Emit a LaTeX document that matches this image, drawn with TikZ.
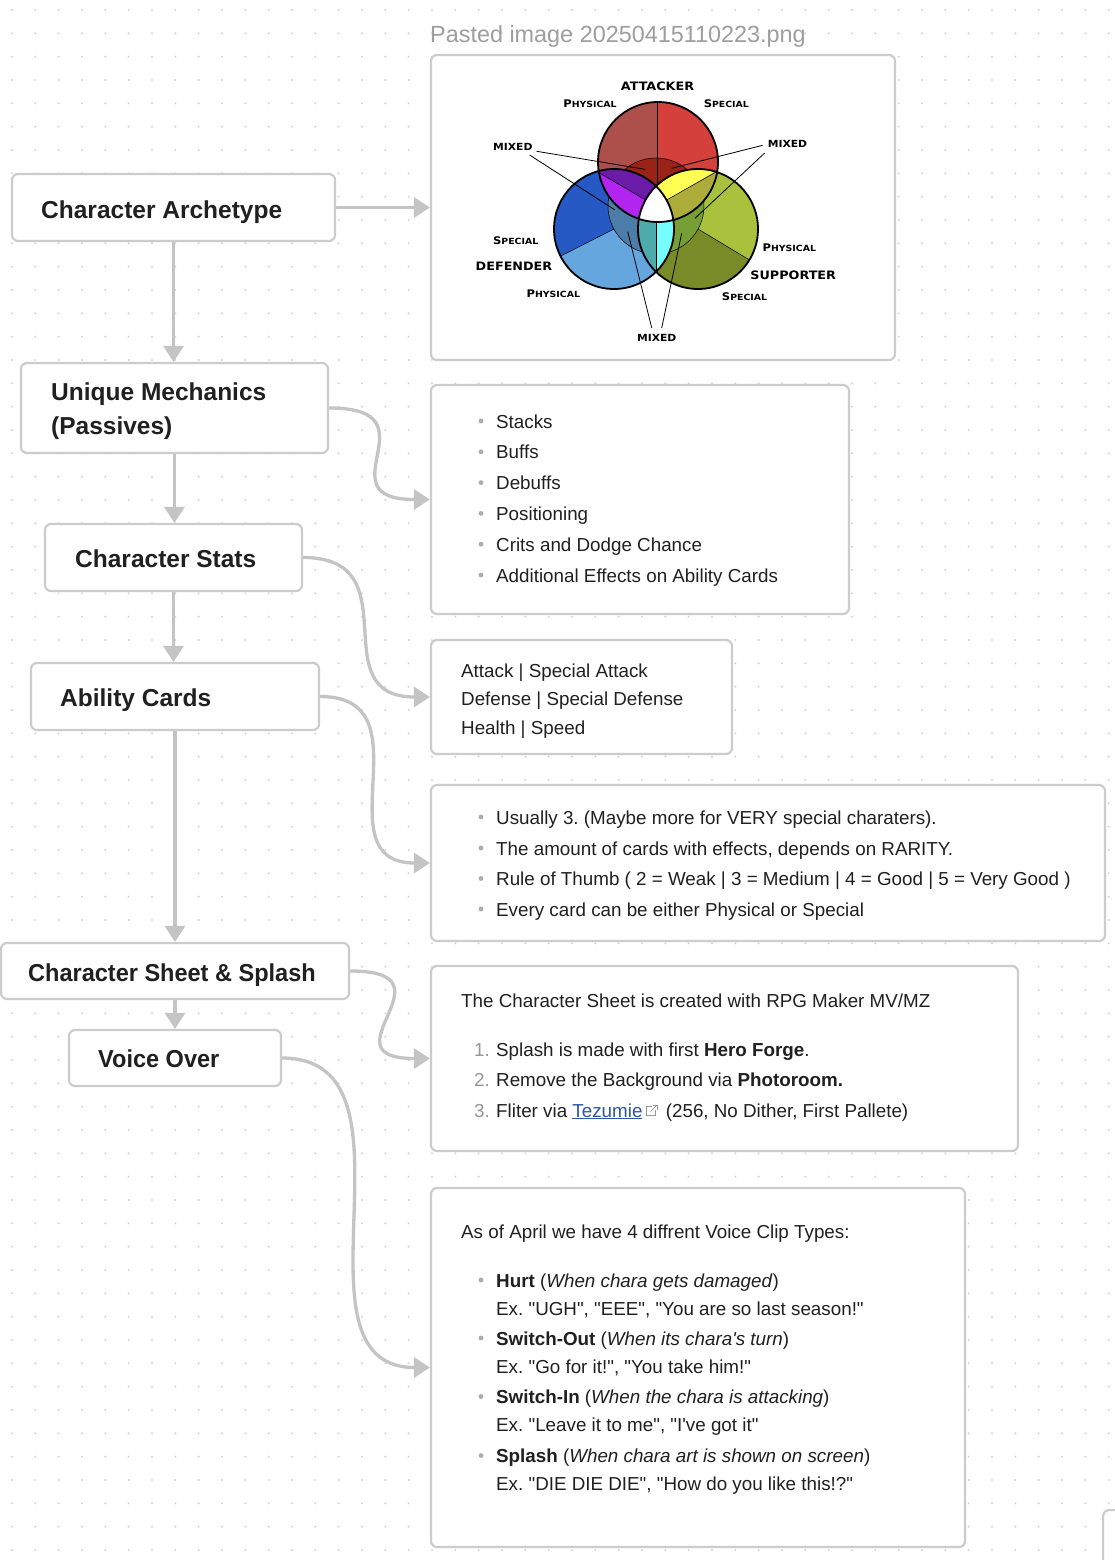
\documentclass[tikz,border=0pt]{standalone}
\usepackage{fontspec}
\setmainfont{Liberation Sans}[Ligatures=TeXOff]
\newfontfamily\vennfont{DejaVu Sans}
\usepackage{graphicx}
\usetikzlibrary{arrows.meta,calc}
\frenchspacing

\definecolor{dotc}{RGB}{212,212,212}
\definecolor{boxc}{RGB}{204,204,204}
\definecolor{arrc}{RGB}{196,196,196}
\definecolor{txt}{RGB}{32,32,32}
\definecolor{bulc}{RGB}{172,172,172}
\definecolor{numc}{RGB}{150,150,150}
\definecolor{titc}{RGB}{158,158,158}
\definecolor{linkc}{RGB}{48,84,160}
% venn colours
\definecolor{aphys}{RGB}{173,79,75}
\definecolor{aspec}{RGB}{212,64,59}
\definecolor{amix}{RGB}{154,35,23}
\definecolor{dspec}{RGB}{38,89,195}
\definecolor{dphys}{RGB}{102,166,222}
\definecolor{dmix}{RGB}{76,125,169}
\definecolor{sphys}{RGB}{168,194,61}
\definecolor{sspec}{RGB}{121,138,40}
\definecolor{smix}{RGB}{118,160,54}
\definecolor{adpurp}{RGB}{106,27,168}
\definecolor{admag}{RGB}{178,36,240}
\definecolor{asyel}{RGB}{255,255,85}
\definecolor{asol}{RGB}{173,172,59}
\definecolor{dsteal}{RGB}{78,171,171}
\definecolor{dscyan}{RGB}{119,255,255}

\newcommand\hdrf{\fontsize{24.5}{29}\selectfont\bfseries}
\newcommand\bodyf{\fontsize{18.8}{23}\selectfont}
\newcommand\titf{\fontsize{23.4}{27}\selectfont}
\newcommand\vbig[1]{\scalebox{1.1}[1]{\fontsize{11.6}{13}\selectfont #1}}
\newcommand\vmid[1]{\scalebox{1.1}[1]{\fontsize{9.8}{12}\selectfont #1}}
\newcommand\vsc[2]{\scalebox{1.1}[1]{{\fontsize{10.5}{12}\selectfont #1}{\fontsize{8.5}{12}\selectfont #2}}}

\begin{document}
\begin{tikzpicture}[x=1pt,y=-1pt,
  hbox/.style={draw=boxc, line width=2.2pt, rounded corners=6pt, fill=white, inner sep=0pt},
  htext/.style={anchor=base west, inner sep=0pt, font=\hdrf, text=txt},
  btext/.style={anchor=base west, inner sep=0pt, font=\bodyf, text=txt},
  ntext/.style={anchor=base east, inner sep=0pt, font=\bodyf, text=numc},
  conn/.style={draw=arrc, line width=3.3pt, -{Triangle[width=20pt,length=16pt]}},
  vlab/.style={inner sep=0pt, font=\vennfont\bfseries, text=black},
  leader/.style={draw=black, line width=0.8pt},
  thinl/.style={draw=black, line width=0.5pt},
  thickl/.style={draw=black, line width=1.8pt},
  bul/.style={fill=bulc}]
\useasboundingbox (0,0) rectangle (1115,1560);
\clip (0,0) rectangle (1115,1560);
\fill[white] (0,0) rectangle (1115,1560);
% dot grid
\foreach \i in {0,...,47}{
  \foreach \j in {0,...,66}{
    \fill[dotc] ({12+\i*23.333},{10+\j*23.333}) circle (1.1pt);
  }
}

% ---------- left boxes ----------
\node[hbox, minimum width=323pt, minimum height=67pt] (arch) at (173.5,207.5) {};
\node[htext] (archt) at (41,218) {Character Archetype};
\node[hbox, minimum width=307pt, minimum height=90pt] (uniq) at (174.5,408) {};
\node[htext] (uniqt1) at (51,400.5) {Unique Mechanics};
\node[htext] (uniqt2) at (51,434.5) {(Passives)};
\node[hbox, minimum width=257pt, minimum height=67pt] (stats) at (173.5,557.5) {};
\node[htext] (statst) at (75,567) {Character Stats};
\node[hbox, minimum width=288pt, minimum height=67pt] (abil) at (175,696.5) {};
\node[htext] (abilt) at (60,706.5) {Ability Cards};
\node[hbox, minimum width=348pt, minimum height=56pt] (sheet) at (175,971) {};
\node[htext] (sheett) at (28,981) {\scalebox{0.96}[1]{Character Sheet \& Splash}};
\node[hbox, minimum width=212pt, minimum height=56pt] (voice) at (175,1058) {};
\node[htext] (voicet) at (98,1067.5) {\scalebox{0.96}[1]{Voice Over}};

% ---------- right boxes ----------
\node[anchor=base west, inner sep=0pt, font=\titf, text=titc] (title) at (430,42.5) {Pasted image 20250415110223.png};
\node[hbox, minimum width=464pt, minimum height=305pt] (img) at (663,207.5) {};
\node[hbox, minimum width=418pt, minimum height=229pt] (pass) at (640,499.5) {};
\node[hbox, minimum width=301pt, minimum height=114pt] (statb) at (581.5,697) {};
\node[hbox, minimum width=674pt, minimum height=156pt] (abilb) at (768,863) {};
\node[hbox, minimum width=587pt, minimum height=185pt] (sheetb) at (724.5,1058.5) {};
\node[hbox, minimum width=534pt, minimum height=359pt] (voiceb) at (698,1367.5) {};
\node[hbox, minimum width=200pt, minimum height=200pt, anchor=north west] (cut) at (1102,1509) {};

% ---------- connectors ----------
\draw[conn] (arch.east) -- (img.west);
\draw[conn] (arch.south) -- (arch.south |- uniq.north);
\draw[conn] (uniq.south) -- (uniq.south |- stats.north);
\draw[conn] (stats.south) -- (stats.south |- abil.north);
\draw[conn] (abil.south) -- (abil.south |- sheet.north);
\draw[conn] (sheet.south) -- (sheet.south |- voice.north);
\draw[conn] (uniq.east) .. controls +(110,0) and +(-110,0) .. (pass.west);
\draw[conn] (stats.east) .. controls +(110,0) and +(-110,0) .. (statb.west);
\draw[conn] (abil.east) .. controls +(110,0) and +(-110,0) .. (abilb.west);
\draw[conn] (sheet.east) .. controls +(110,0) and +(-110,0) .. (sheetb.west);
\draw[conn] (voice.east) .. controls +(150,0) and +(-150,0) .. (voiceb.west);

% ---------- venn diagram ----------
\begin{scope}
  \clip (658,162) circle (60pt);
  \fill[aphys] (590,95) rectangle (657,230);
  \fill[aspec] (657,95) rectangle (722,230);
\end{scope}
\begin{scope}
  \clip (614,229) circle (60pt);
  \fill[dspec] (550,165) rectangle (680,295);
  \fill[dphys] (614,229) -- (542.7,265.3) -- (542.7,300) -- (720,300) -- (720,229) -- cycle;
\end{scope}
\begin{scope}
  \clip (698,229) circle (60pt);
  \fill[sphys] (630,165) rectangle (765,295);
  \fill[sspec] (698,229) -- (766.6,270.1) -- (766.6,300) -- (600,300) -- (600,229) -- cycle;
\end{scope}
\begin{scope}
  \clip (658,162) circle (60pt);
  \fill[amix] (656,206) circle (48pt);
\end{scope}
\begin{scope}
  \clip (614,229) circle (60pt);
  \fill[dmix] (656,206) circle (48pt);
\end{scope}
\begin{scope}
  \clip (698,229) circle (60pt);
  \fill[smix] (656,206) circle (48pt);
\end{scope}
\draw[thinl] (657,102) -- (657,206);
\draw[thinl] (614,229) -- (560.5,256.2);
\draw[thinl] (698,229) -- (749.4,259.9);
\draw[thinl] (656,206) circle (48pt);
% lens A-D
\begin{scope}
  \clip (658,162) circle (60pt);
  \clip (614,229) circle (60pt);
  \fill[adpurp] (540,100) rectangle (720,300);
  \fill[admag] (537.6,137) -- (715.2,240.5) -- (646.2,358.9) -- (468.6,255.4) -- cycle;
  \draw[thinl] (596.8,171.5) -- (656,206);
\end{scope}
% lens A-S
\begin{scope}
  \clip (658,162) circle (60pt);
  \clip (698,229) circle (60pt);
  \fill[asol] (590,100) rectangle (770,300);
  \fill[asyel] (774.4,137) -- (596.8,240.5) -- (527.8,122.1) -- (705.4,18.6) -- cycle;
  \draw[thinl] (717,171.5) -- (656,206);
\end{scope}
% lens D-S
\begin{scope}
  \clip (614,229) circle (60pt);
  \clip (698,229) circle (60pt);
  \fill[dsteal] (600,180) rectangle (656,290);
  \fill[dscyan] (656,180) rectangle (712,290);
  \draw[thinl] (656,186) -- (656,272);
\end{scope}
% triple
\begin{scope}
  \clip (658,162) circle (60pt);
  \clip (614,229) circle (60pt);
  \clip (698,229) circle (60pt);
  \fill[white] (590,150) rectangle (720,280);
\end{scope}
\draw[thickl] (658,162) circle (60pt);
\draw[thickl] (614,229) circle (60pt);
\draw[thickl] (698,229) circle (60pt);

% venn labels
\node[vlab] (lat) at (657.5,86.7) {\vbig{ATTACKER}};
\node[vlab] (lap) at (590,104) {\vsc{P}{HYSICAL}};
\node[vlab] (las) at (726.3,103.3) {\vsc{S}{PECIAL}};
\node[vlab] (lml) at (512.8,147.3) {\vmid{MIXED}};
\node[vlab] (lmr) at (787.5,144.3) {\vmid{MIXED}};
\node[vlab] (lds) at (515.7,240.7) {\vsc{S}{PECIAL}};
\node[vlab] (ldf) at (514,266) {\vbig{DEFENDER}};
\node[vlab] (ldp) at (553.3,293.3) {\vsc{P}{HYSICAL}};
\node[vlab] (lsp) at (789.3,247.3) {\vsc{P}{HYSICAL}};
\node[vlab] (lsu) at (793.2,275) {\vbig{SUPPORTER}};
\node[vlab] (lss) at (744.5,296.7) {\vsc{S}{PECIAL}};
\node[vlab] (lmb) at (656.7,337.7) {\vmid{MIXED}};
\coordinate (m1) at (645,169.3);
\coordinate (m2) at (615,210);
\coordinate (m3) at (671.7,168.3);
\coordinate (m4) at (695,218.3);
\coordinate (m5) at (627.7,231.7);
\coordinate (m6) at (681.7,233.3);
\draw[leader] ($(lml.east)+(4,4)$) -- (m1);
\draw[leader] ($(lml.south east)+(-3,4)$) -- (m2);
\draw[leader] ($(lmr.west)+(-5,1)$) -- (m3);
\draw[leader] ($(lmr.south west)+(-3,5)$) -- (m4);
\draw[leader] ($(lmb.north)+(-5,-6)$) -- (m5);
\draw[leader] ($(lmb.north)+(5,-6)$) -- (m6);

% ---------- passives list ----------
\foreach \y/\t [count=\k] in {428/Stacks, 458.8/Buffs, 489.6/Debuffs, 520.4/Positioning, 551.2/Crits and Dodge Chance, 582/Additional Effects on Ability Cards}{
  \fill[bul] (481,\y-7) circle (2.4pt);
  \node[btext] (pl\k) at (496,\y) {\t};
}

% ---------- stats ----------
\node[btext] (st1) at (461,677) {Attack | Special Attack};
\node[btext] (st2) at (461,705.5) {Defense | Special Defense};
\node[btext] (st3) at (461,734) {Health | Speed};

% ---------- ability cards ----------
\fill[bul] (481,817) circle (2.4pt);
\node[btext] (ab1) at (496,824) {Usually 3. (Maybe more for VERY special charaters).};
\fill[bul] (481,848) circle (2.4pt);
\node[btext] (ab2) at (496,855) {The amount of cards with effects, depends on RARITY.};
\fill[bul] (481,878.5) circle (2.4pt);
\node[btext] (ab3) at (496,885.5) {Rule of Thumb ( 2 = Weak | 3 = Medium | 4 = Good | 5 = Very Good )};
\fill[bul] (481,909) circle (2.4pt);
\node[btext] (ab4) at (496,916) {Every card can be either Physical or Special};

% ---------- character sheet ----------
\node[btext] (sh0) at (461,1007) {The Character Sheet is created with RPG Maker MV/MZ};
\node[ntext] (sn1) at (490,1056) {1.};
\node[btext] (sh1) at (496,1056) {Splash is made with first \textbf{Hero Forge}.};
\node[ntext] (sn2) at (490,1086) {2.};
\node[btext] (sh2) at (496,1086) {Remove the Background via \textbf{Photoroom.}};
\node[ntext] (sn3) at (490,1117) {3.};
\node[btext] (sh3a) at (496,1117) {Fliter via \textcolor{linkc}{\underline{Tezumie}}};
\draw[numc, line width=0.8pt] ($(sh3a.base east)+(4,-1.5)$) rectangle ++(9,-9);
\fill[white] ($(sh3a.base east)+(9,-12)$) rectangle ++(6,5);
\draw[numc, line width=0.8pt] ($(sh3a.base east)+(8,-5.5)$) -- ++(6.5,-6.5);
\draw[numc, line width=0.8pt] ($(sh3a.base east)+(10,-12)$) -- ++(4.5,0) -- ++(0,4.5);
\node[btext] (sh3b) at ($(sh3a.base east)+(23,0)$) {(256, No Dither, First Pallete)};

% ---------- voice over ----------
\node[btext] (vo0) at (461,1238) {As of April we have 4 diffrent Voice Clip Types:};
\fill[bul] (481,1280) circle (2.4pt);
\node[btext] (vo1) at (496,1287) {\textbf{Hurt} (\textit{When chara gets damaged})};
\node[btext] (vo2) at (496,1315) {Ex. "UGH", "EEE", "You are so last season!"};
\fill[bul] (481,1338) circle (2.4pt);
\node[btext] (vo3) at (496,1345) {\textbf{Switch-Out} (\textit{When its chara's turn})};
\node[btext] (vo4) at (496,1373) {Ex. "Go for it!", "You take him!"};
\fill[bul] (481,1396.5) circle (2.4pt);
\node[btext] (vo5) at (496,1403.5) {\textbf{Switch-In} (\textit{When the chara is attacking})};
\node[btext] (vo6) at (496,1431.5) {Ex. "Leave it to me", "I've got it"};
\fill[bul] (481,1455.5) circle (2.4pt);
\node[btext] (vo7) at (496,1462.5) {\textbf{Splash} (\textit{When chara art is shown on screen})};
\node[btext] (vo8) at (496,1490.5) {Ex. "DIE DIE DIE", "How do you like this!?"};
\end{tikzpicture}
\end{document}
